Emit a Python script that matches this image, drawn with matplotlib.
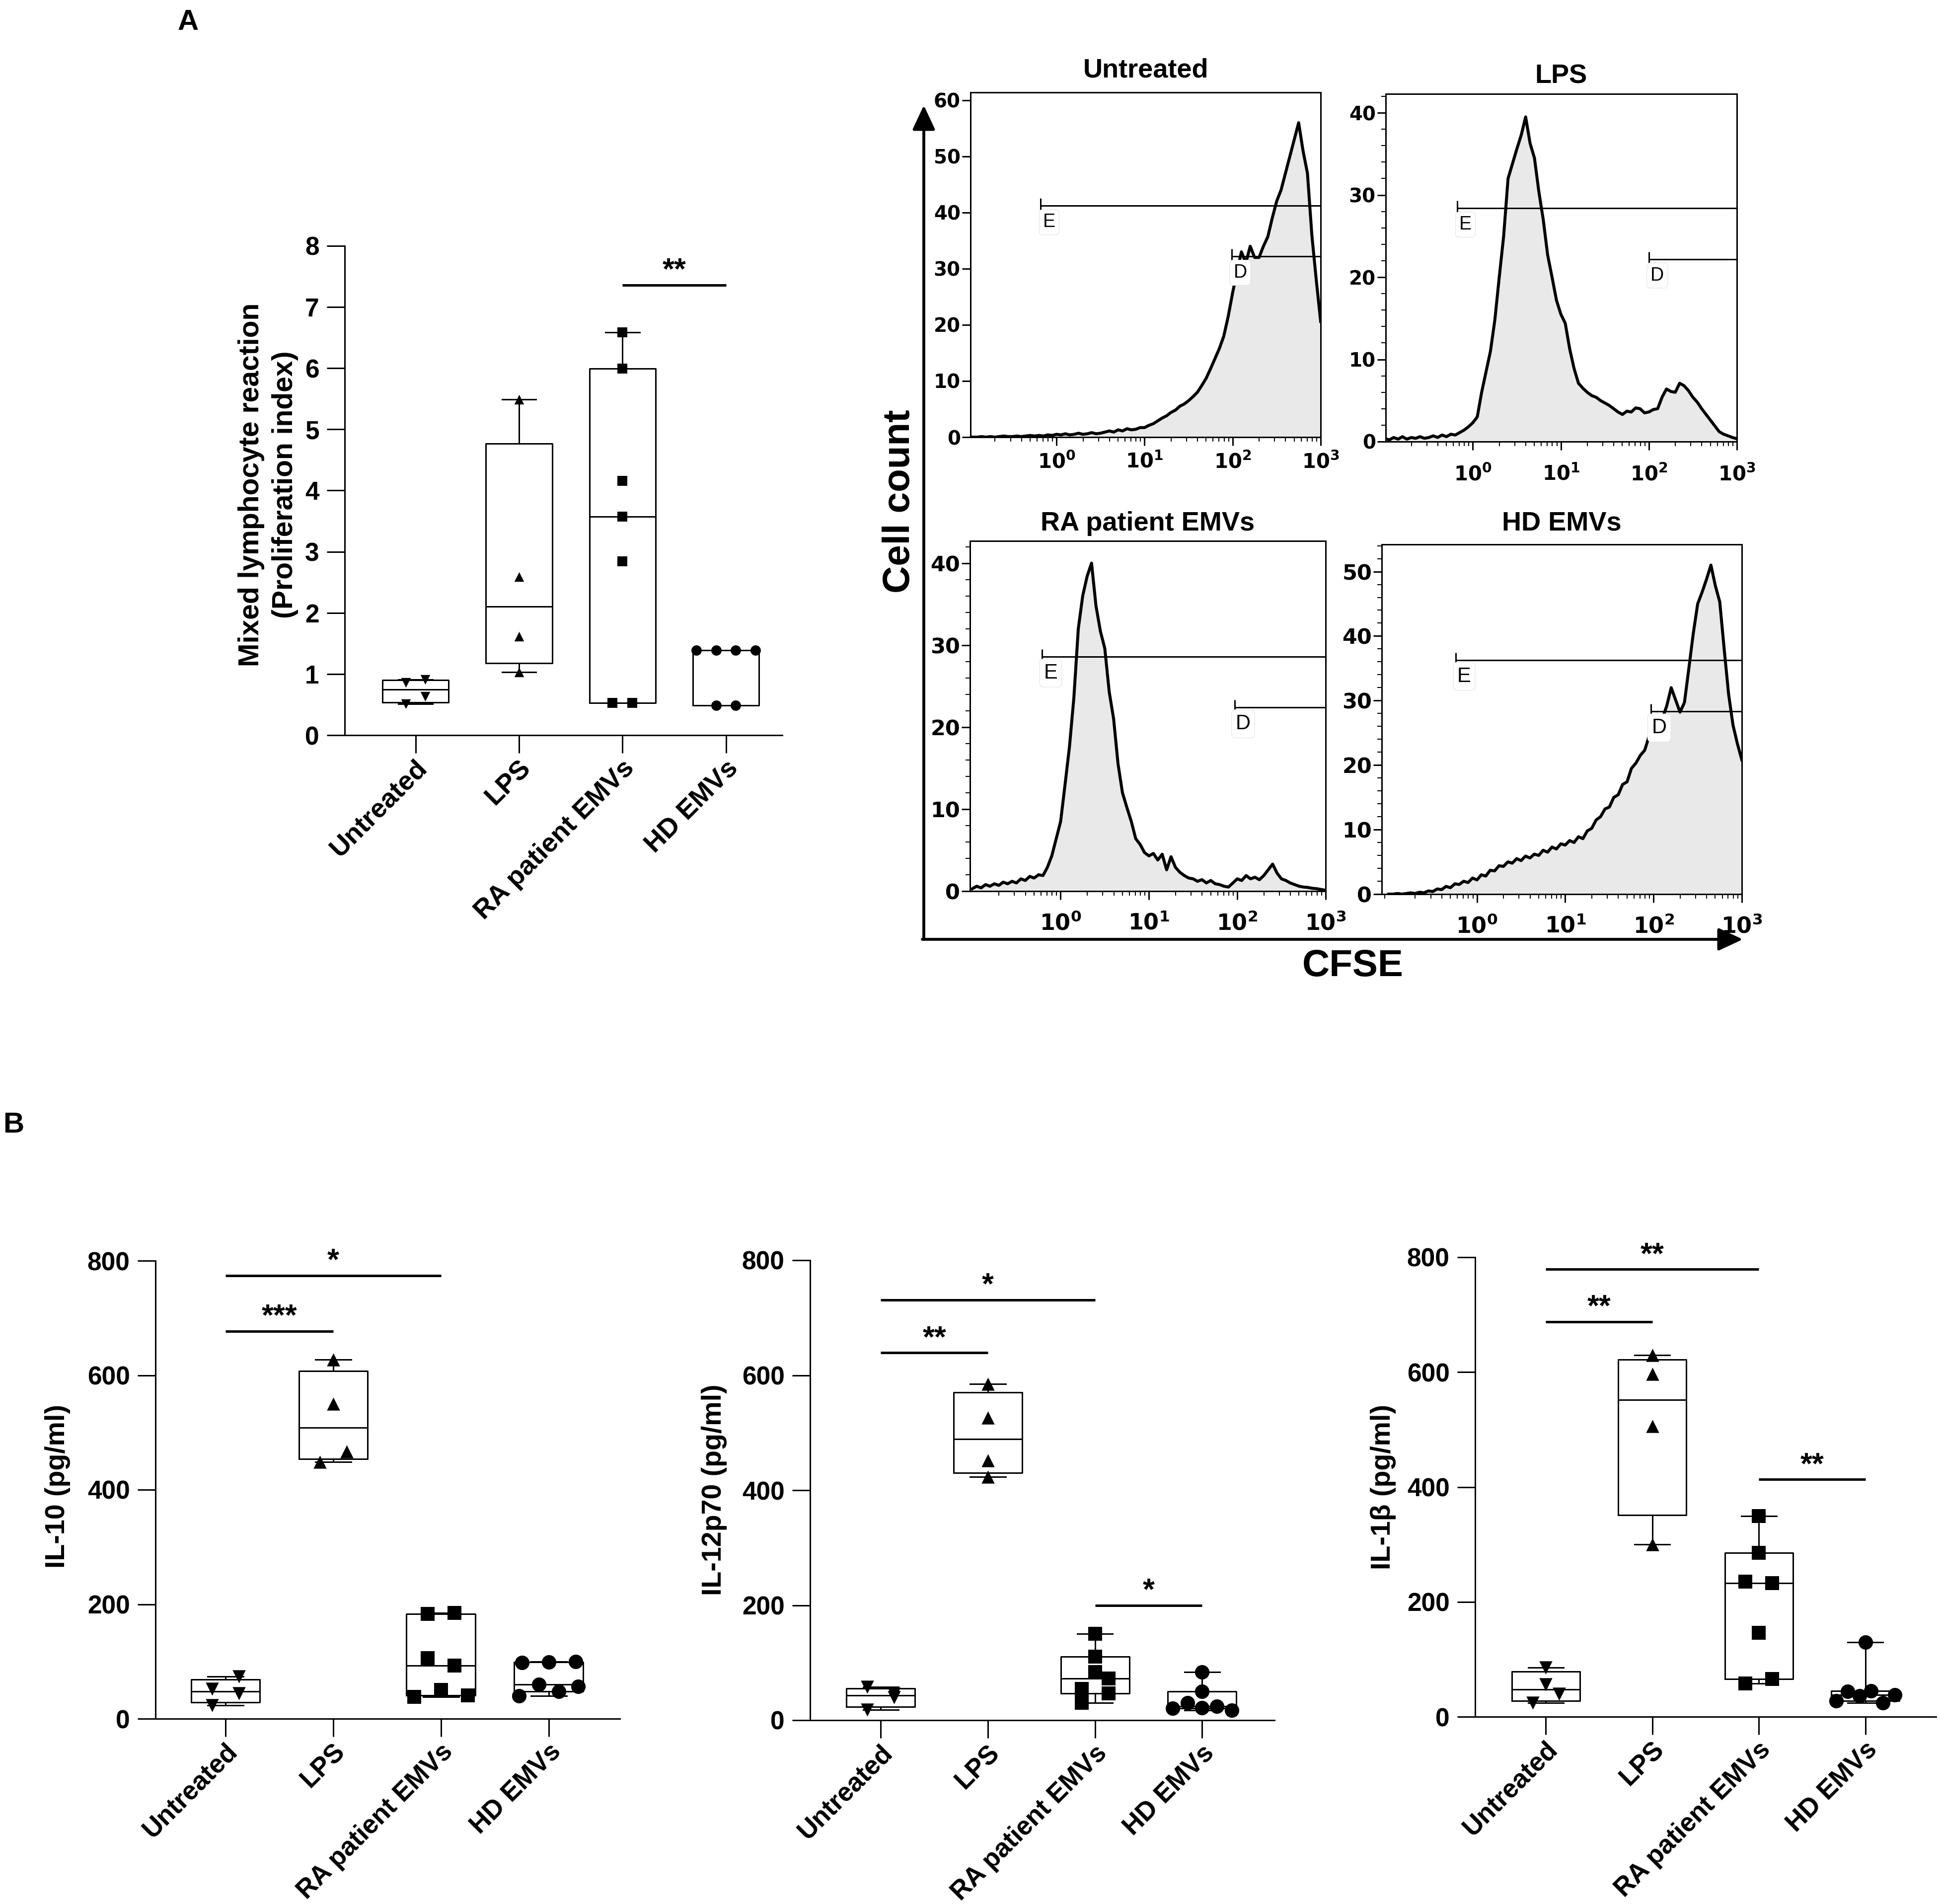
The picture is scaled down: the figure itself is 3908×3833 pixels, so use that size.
import numpy as np
import matplotlib
matplotlib.use('Agg')
import matplotlib.pyplot as plt
from matplotlib.transforms import ScaledTranslation
from matplotlib.ticker import FixedLocator, LogLocator, MultipleLocator, NullFormatter

# ------------------------------------------------------------------ data
groups = ['Untreated', 'LPS', 'RA patient EMVs', 'HD EMVs']
group_markers = ['v', '^', 's', 'o']

# Panel A: mixed lymphocyte reaction (proliferation index)
mlr_untreated = [0.51, 0.63, 0.86, 0.91]
mlr_lps = [1.03, 1.62, 2.59, 5.49]
mlr_ra = [0.53, 0.53, 2.84, 3.57, 4.16, 5.99, 6.59]
mlr_hd = [0.49, 0.49, 1.39, 1.39, 1.39, 1.39]

# Panel B: cytokines (pg/ml)
il10_untreated = [23, 44, 52, 74]
il10_lps = [449, 467, 550, 627]
il10_ra = [38, 50, 41, 106, 93, 183, 185]
il10_hd = [40, 60, 48, 56, 98, 99, 100]

il12_untreated = [18, 40, 58, 46]
il12_lps = [423, 452, 526, 585]
il12_ra = [30, 47, 54, 73, 84, 111, 150]
il12_hd = [21, 30, 22, 24, 17, 50, 84]

il1b_untreated = [24, 56, 40, 86]
il1b_lps = [300, 506, 597, 630]
il1b_ra = [58, 66, 146, 235, 233, 285, 349]
il1b_hd = [28, 44, 36, 45, 24, 38, 130]

# significance: (group a, group b, bar level, label)
mlr_sig = [(2, 3, 7.36, '**')]
il10_sig = [(0, 1, 677, '***'), (0, 2, 774, '*')]
il12_sig = [(0, 1, 639, '**'), (0, 2, 731, '*'), (2, 3, 200, '*')]
il1b_sig = [(0, 1, 688, '**'), (0, 2, 779, '**'), (2, 3, 413, '**')]

# CFSE histograms: counts at log10(CFSE) = -1.00, -0.95, ..., 3.00
hist_titles = ['Untreated', 'LPS', 'RA patient EMVs', 'HD EMVs']
hist_untreated = [
    0, 0, 0, 0.1, 0, 0.1, 0, 0.1, 0.2, 0.1,
    0.1, 0.2, 0.1, 0.2, 0.3, 0.2, 0.3, 0.2, 0.4, 0.3,
    0.5, 0.4, 0.6, 0.4, 0.5, 0.7, 0.5, 0.6, 0.8, 0.6,
    0.7, 0.9, 1.1, 0.9, 1.3, 1.1, 1.5, 1.3, 1.4, 1.7,
    1.7, 2.1, 2.4, 2.9, 3.4, 3.8, 4.4, 4.8, 5.5, 5.9,
    6.5, 7.2, 8.0, 9.2, 10.5, 12.2, 14.0, 15.8, 18.0, 21.5,
    25.7, 29.5, 33, 31, 34, 32, 32, 34, 35.7, 39,
    42, 44, 47, 50, 53, 56, 51, 47, 36, 28,
    20.6]
hist_lps = [
    0.4, 0.2, 0.5, 0.3, 0.6, 0.3, 0.5, 0.4, 0.6, 0.4,
    0.5, 0.7, 0.5, 0.8, 0.6, 0.9, 0.8, 1.1, 1.4, 1.8,
    2.3, 3.0, 6.0, 8.5, 11, 14.8, 20, 25, 32, 33.8,
    35.6, 37.3, 39.5, 36.3, 34.5, 30.4, 27, 22.7, 20, 17.2,
    15.5, 14.4, 11.3, 8.9, 7.1, 6.5, 6.0, 5.6, 5.4, 5.0,
    4.7, 4.4, 4.0, 3.6, 3.3, 3.7, 3.6, 4.1, 4.0, 3.5,
    3.6, 3.9, 4.0, 5.4, 6.4, 6.1, 6.0, 7.1, 6.8, 6.2,
    5.4, 4.8, 4.0, 3.3, 2.6, 1.9, 1.2, 0.9, 0.7, 0.5,
    0.35]
hist_ra = [
    0.3, 0.6, 0.4, 0.8, 0.6, 0.9, 0.7, 1.1, 0.9, 1.2,
    1.0, 1.5, 1.3, 1.8, 1.6, 2.0, 1.9, 2.9, 4.3, 6.4,
    8.5, 13, 17.6, 23.6, 32, 36, 38.4, 40, 34.8, 31.7,
    29.6, 24.3, 21, 15.5, 12, 10.2, 8.5, 6.4, 5.7, 4.7,
    4.3, 4.6, 3.8, 4.5, 2.6, 4.2, 2.9, 2.3, 1.9, 1.6,
    1.5, 1.2, 1.4, 1.0, 1.3, 0.9, 0.8, 0.6, 0.5, 1.0,
    1.5, 1.3, 1.9, 1.5, 1.7, 1.4, 1.9, 2.6, 3.3, 2.2,
    1.5, 1.3, 1.0, 0.8, 0.6, 0.5, 0.45, 0.35, 0.3, 0.2,
    0.1]
hist_hd = [
    0, 0, 0.1, 0, 0.1, 0.2, 0.1, 0.3, 0.2, 0.5,
    0.4, 0.8, 0.7, 1.2, 1.0, 1.6, 1.5, 2.0, 1.8, 2.5,
    2.2, 3.0, 2.8, 3.7, 3.6, 4.4, 4.3, 5.0, 4.8, 5.5,
    5.2, 5.9, 5.6, 6.2, 6.0, 6.8, 6.5, 7.3, 7.0, 7.8,
    7.6, 8.3, 8.0, 8.9, 8.6, 9.8, 10.2, 11.5, 12.0, 13.2,
    13.5, 15.0, 15.4, 17.0, 17.4, 19.5, 20.3, 21.5, 22.3, 24.5,
    25.2, 26.5, 27.2, 29.2, 32.0, 30.1, 28.2, 29.7, 35, 40.4,
    45, 46.8, 48.8, 51, 47.8, 45.3, 38, 31, 26.2, 23.3,
    20.8]
hist_log_start, hist_log_step = -1.0, 0.05

# gates: (log10 start, level) for E and D
gates_E = [(-0.18, 41.2), (-0.18, 28.4), (-0.21, 28.6), (-0.24, 36.3)]
gates_D = [(1.99, 32.2), (2.0, 22.2), (1.97, 22.4), (1.97, 28.3)]

# ------------------------------------------------------------------ style
plt.rcParams['font.family'] = ['Liberation Sans', 'DejaVu Sans']
plt.rcParams['font.weight'] = 'bold'
plt.rcParams['mathtext.fontset'] = 'dejavusans'

W, H = 3908, 3833
DPI = 100
PT = 72.0 / DPI          # points per pixel
LW = 3 * PT              # 3 px lines
fig = plt.figure(figsize=(W / DPI, H / DPI), dpi=DPI, facecolor='white')


def px_axes(l, r, t, b):
    return fig.add_axes([l / W, 1 - b / H, (r - l) / W, (b - t) / H])


def fig_text(x, y, s, **kw):
    fig.text(x / W, 1 - y / H, s, **kw)


def box_stats(vals):
    v = np.asarray(vals, float)
    q1, med, q3 = np.percentile(v, [25, 50, 75], method='weibull')
    return dict(med=med, q1=q1, q3=q3, whislo=v.min(), whishi=v.max(), fliers=[])


def swarm_offsets(vals, h, d0, maxspread):
    vals = np.asarray(vals, float)
    order = np.argsort(vals, kind='stable')
    rows, cur, start = [], [], None
    for i in order:
        if cur and vals[i] - start < h:
            cur.append(i)
        else:
            if cur:
                rows.append(cur)
            cur, start = [i], vals[i]
    rows.append(cur)
    off = np.zeros(len(vals))
    for row in rows:
        row = sorted(row)
        k = len(row)
        d = d0 if k < 2 else min(d0, maxspread / (k - 1))
        for j, i in enumerate(row):
            off[i] = (j - (k - 1) / 2) * d
    return off


def box_panel(rect, xlim, ylim, yticks, datasets, ms_pt, d0, maxspread, sig,
              ytick_fs=37, xtick_fs=38, ticklen=26):
    l, r, t, b = rect
    ax = px_axes(l, r, t, b)
    ax.set_xlim(*xlim)
    ax.set_ylim(*ylim)
    ppu = (b - t) / (ylim[1] - ylim[0])
    stats = [box_stats(d) for d in datasets]
    lp = dict(color='black', lw=LW)
    ax.bxp(stats, positions=range(len(datasets)), widths=0.64, capwidths=0.33,
           showfliers=False, boxprops=lp, whiskerprops=lp, capprops=lp,
           medianprops=lp, zorder=2)
    for i, (d, m, ms) in enumerate(zip(datasets, group_markers, ms_pt)):
        h = (ms / PT) / ppu
        off = swarm_offsets(d, h, d0, maxspread)
        ax.scatter(i + off, d, marker=m, s=ms ** 2, color='black', linewidths=0,
                   zorder=4, clip_on=False)
    for g1, g2, yv, lab in sig:
        ax.plot([g1, g2], [yv, yv], color='black', lw=5 * PT,
                solid_capstyle='butt', clip_on=False, zorder=3)
        ax.annotate(lab, ((g1 + g2) / 2, yv), xytext=(0, 9),
                    textcoords='offset points', ha='center', va='baseline',
                    fontsize=44, fontweight='bold')
    for s in ['top', 'right']:
        ax.spines[s].set_visible(False)
    for s in ['left', 'bottom']:
        ax.spines[s].set_linewidth(LW)
    ax.set_yticks(yticks)
    ax.set_xticks(range(len(groups)))
    ax.set_xticklabels(groups, rotation=45, ha='right', va='center',
                       rotation_mode='anchor', fontsize=xtick_fs, fontweight='bold')
    ax.tick_params(axis='both', width=LW, length=ticklen, color='black')
    ax.tick_params(axis='y', labelsize=ytick_fs, pad=11)
    ax.tick_params(axis='x', pad=16)
    for lab in ax.get_yticklabels():
        lab.set_fontweight('bold')
    shift = ScaledTranslation(0.16, 0, fig.dpi_scale_trans)
    for lab in ax.get_xticklabels():
        lab.set_transform(lab.get_transform() + shift)
    return ax


def hist_panel(rect, title, counts, ytop, ymax_tick, ystep, xlog_left, gE, gD,
               fs, minor_y, xpad, title_gap):
    l, r, t, b = rect
    ax = px_axes(l, r, t, b)
    logs = hist_log_start + hist_log_step * np.arange(len(counts))
    x = 10 ** logs
    ax.fill_between(x, counts, 0, color='#e9e9e9', lw=0, zorder=1)
    ax.plot(x, counts, color='black', lw=6 * PT, zorder=2, solid_joinstyle='round')
    ax.set_xscale('log')
    ax.set_xlim(10 ** xlog_left, 1000)
    ax.set_ylim(0, ytop)
    for s in ax.spines.values():
        s.set_linewidth(LW)
        s.set_zorder(5)
    ax.xaxis.set_major_locator(FixedLocator([1, 10, 100, 1000]))
    ax.xaxis.set_minor_locator(LogLocator(base=10, subs=np.arange(2, 10), numticks=30))
    ax.xaxis.set_minor_formatter(NullFormatter())
    ax.set_xticklabels([r'$\mathbf{10^{0}}$', r'$\mathbf{10^{1}}$',
                        r'$\mathbf{10^{2}}$', r'$\mathbf{10^{3}}$'], fontsize=fs + 1)
    ax.set_yticks(np.arange(0, ymax_tick + 1, ystep))
    for lab in ax.get_yticklabels():
        lab.set_fontweight('bold')
        lab.set_fontsize(fs)
        lab.set_family('DejaVu Sans')
    if minor_y:
        ax.yaxis.set_minor_locator(MultipleLocator(2))
    ax.tick_params(axis='both', which='major', width=LW, length=17 * PT, color='black')
    ax.tick_params(axis='both', which='minor', width=2 * PT, length=9 * PT, color='black')
    ax.tick_params(axis='y', which='major', pad=3 * PT)
    ax.tick_params(axis='x', which='major', pad=xpad * PT)
    for (gl, gy), lab in [(gE, 'E'), (gD, 'D')]:
        gx = 10 ** gl
        ax.plot([gx, 1000], [gy, gy], color='black', lw=LW, zorder=3,
                solid_capstyle='butt')
        ax.plot([gx], [gy], marker='|', ms=30 * PT, mew=LW, color='black', zorder=3)
        ax.annotate(lab, (gx, gy), xytext=(17 * PT, -33 * PT),
                    textcoords='offset points', ha='center', va='center',
                    fontsize=fs - 1, fontweight='normal', zorder=4,
                    bbox=dict(boxstyle='round,pad=0.2', fc='white', ec='#e2e2e2', lw=0.8))
    fig_text((l + r) / 2, t - title_gap, title, ha='center', va='center',
             fontsize=39, fontweight='bold')
    return ax


# ------------------------------------------------------------------ panel A (box plot)
box_panel((694, 1575, 495, 1480), (-0.684, 3.544), (0, 8), range(0, 9),
          [mlr_untreated, mlr_lps, mlr_ra, mlr_hd], [14, 14, 14, 15],
          0.19, 0.58, mlr_sig, xtick_fs=39)
fig_text(540, 976, 'Mixed lymphocyte reaction\n(Proliferation index)', rotation=90,
         ha='center', va='center', fontsize=41, fontweight='bold', linespacing=1.35)

# ------------------------------------------------------------------ panel A (histograms)
hist_panel((1954, 2659, 186, 880), hist_titles[0], hist_untreated, 61.4, 60, 10,
           -0.977, gates_E[0], gates_D[0], 28, False, 12, 45)
hist_panel((2790, 3497, 189, 889), hist_titles[1], hist_lps, 42.3, 40, 10,
           -0.99, gates_E[1], gates_D[1], 28, True, 28, 35)
hist_panel((1953, 2669, 1089, 1794), hist_titles[2], hist_ra, 42.7, 40, 10,
           -1.026, gates_E[2], gates_D[2], 31, True, 26, 35)
hist_panel((2782, 3507, 1096, 1800), hist_titles[3], hist_hd, 54.2, 50, 10,
           -1.078, gates_E[3], gates_D[3], 31, True, 26, 42)

arrow_kw = dict(arrowstyle='-|>,head_length=3.0,head_width=1.4', color='black',
                lw=4.2, shrinkA=0, shrinkB=0, mutation_scale=10)
fig.add_artist(matplotlib.patches.FancyArrowPatch(
    (1860 / W, 1 - 1891 / H), (1860 / W, 1 - 212 / H), transform=fig.transFigure,
    **arrow_kw))
fig.add_artist(matplotlib.patches.FancyArrowPatch(
    (1857 / W, 1 - 1891 / H), (3509 / W, 1 - 1891 / H), transform=fig.transFigure,
    **arrow_kw))
fig_text(1812, 1009, 'Cell count', rotation=90, ha='center', va='center',
         fontsize=55, fontweight='bold')
fig_text(2724, 1946, 'CFSE', ha='center', va='center', fontsize=55, fontweight='bold')

# ------------------------------------------------------------------ panel B
box_panel((313, 1248, 2538, 3460), (-0.65, 3.66), (0, 800), range(0, 801, 200),
          [il10_untreated, il10_lps, il10_ra, il10_hd], [19, 19, 19.5, 21],
          0.25, 0.55, il10_sig)
fig_text(116, 2992, 'IL-10 (pg/ml)', rotation=90, ha='center', va='center',
         fontsize=40, fontweight='bold')

box_panel((1631, 2566, 2537, 3463), (-0.66, 3.675), (0, 800), range(0, 801, 200),
          [il12_untreated, il12_lps, il12_ra, il12_hd], [19, 19, 19.5, 21],
          0.25, 0.55, il12_sig)
fig_text(1438, 2999, 'IL-12p70 (pg/ml)', rotation=90, ha='center', va='center',
         fontsize=40, fontweight='bold')

box_panel((2970, 3898, 2531, 3456), (-0.664, 3.664), (0, 800), range(0, 801, 200),
          [il1b_untreated, il1b_lps, il1b_ra, il1b_hd], [19, 19, 19.5, 21],
          0.25, 0.55, il1b_sig)
fig_text(2785, 2994, 'IL-1β (pg/ml)', rotation=90, ha='center', va='center',
         fontsize=40, fontweight='bold')

# panel letters
fig_text(379, 45, 'A', ha='center', va='center', fontsize=42, fontweight='bold')
fig_text(27, 2265, 'B', ha='center', va='center', fontsize=42, fontweight='bold')

fig.savefig('out.png', dpi=DPI, facecolor='white')
